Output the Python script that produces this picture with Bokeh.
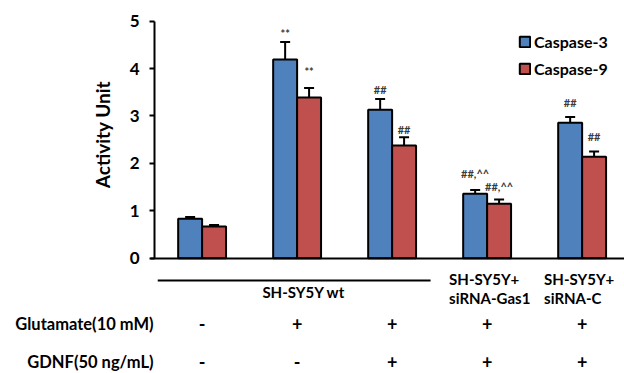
import math
from bokeh.plotting import figure
from bokeh.models import (Range1d, FixedTicker, Whisker, TeeHead, ColumnDataSource,
                          Legend, LegendItem, LabelSet, Label)
from bokeh.core.properties import value
from bokeh.embed import file_html
from bokeh.resources import INLINE

# ---------------- data ----------------
groups = [0, 1, 2, 3, 4]
caspase3 = [0.83, 4.19, 3.13, 1.36, 2.86]
caspase3_err = [0.04, 0.37, 0.23, 0.08, 0.12]
caspase9 = [0.67, 3.39, 2.38, 1.15, 2.14]
caspase9_err = [0.03, 0.20, 0.17, 0.09, 0.11]
sig3_text = ["", "**", "##", "##,^^", "##"]
sig3_y = [0, 4.74, 3.56, 1.79, 3.28]
sig9_text = ["", "**", "##", "##,^^", "##"]
sig9_y = [0, 3.94, 2.71, 1.51, 2.57]
glutamate = ["-", "+", "+", "+", "+"]
gdnf = ["-", "-", "+", "+", "+"]
cell_wt = "SH-SY5Y wt"
cell_line1 = ["SH-SY5Y+", "SH-SY5Y+"]
cell_line2 = ["siRNA-Gas1", "siRNA-C"]
cell_groups = [3, 4]
row_labels = ["Glutamate(10 mM)", "GDNF(50 ng/mL)"]
y_ticks = [0, 1, 2, 3, 4, 5]
y_title = "Activity Unit"

BLUE = "#4F81BD"
RED = "#C0504D"
FONT = "Lato"
bw = 0.252
off = bw / 2
X_AXIS_POS = -0.501   # where the value axis stands, left of the first group

p = figure(width=624, height=373, output_backend="svg", toolbar_location=None,
           x_range=Range1d(-2.122, 4.446), y_range=Range1d(-2.4325, 5.4367),
           min_border_left=0, min_border_right=0, min_border_top=0, min_border_bottom=0)
p.outline_line_color = None
p.xgrid.visible = False
p.ygrid.visible = False

x3 = [g - off for g in groups]
x9 = [g + off for g in groups]
src = ColumnDataSource(dict(
    x3=x3, x9=x9, c3=caspase3, c9=caspase9,
    lo3=[v - e for v, e in zip(caspase3, caspase3_err)],
    hi3=[v + e for v, e in zip(caspase3, caspase3_err)],
    lo9=[v - e for v, e in zip(caspase9, caspase9_err)],
    hi9=[v + e for v, e in zip(caspase9, caspase9_err)],
    s3=sig3_text, s3y=sig3_y, s9=sig9_text, s9y=sig9_y,
))

r3 = p.vbar(x="x3", top="c3", width=bw, source=src, fill_color=BLUE,
            line_color="black", line_width=2)
r9 = p.vbar(x="x9", top="c9", width=bw, source=src, fill_color=RED,
            line_color="black", line_width=2)

for lo, hi, xx in (("lo3", "hi3", "x3"), ("lo9", "hi9", "x9")):
    w = Whisker(source=src, base=xx, lower=lo, upper=hi, line_width=2,
                line_color="black",
                upper_head=TeeHead(size=10, line_width=2, line_color="black"),
                lower_head=TeeHead(size=10, line_width=2, line_color="black"))
    p.add_layout(w)

for xs, ys, ts in (("x3", "s3y", "s3"), ("x9", "s9y", "s9")):
    p.text(x=xs, y=ys, text=ts, source=src, text_align="center",
           text_baseline="middle", text_font=value(FONT), text_font_size="11px",
           text_font_style="bold", text_color="#3a3a3a")

# x axis: just a line at 0
xa = p.xaxis[0]
xa.fixed_location = 0
xa.bounds = (X_AXIS_POS - 0.04, 4.446)
xa.ticker = FixedTicker(ticks=[])
xa.minor_tick_line_color = None
xa.major_tick_line_color = None
xa.axis_line_width = 2
xa.axis_line_color = "black"

# y axis
ax = p.yaxis[0]
ax.fixed_location = X_AXIS_POS
ax.bounds = (0, 5)
ax.ticker = FixedTicker(ticks=y_ticks)
ax.minor_tick_line_color = None
ax.major_tick_in = 0
ax.major_tick_out = 5
ax.major_tick_line_width = 2
ax.axis_line_width = 2
ax.major_label_text_font = FONT
ax.major_label_text_font_size = "17px"
ax.major_label_text_font_style = "bold"
ax.major_label_text_color = "black"
ax.major_label_standoff = 10

p.add_layout(Label(x=X_AXIS_POS - 0.547, y=2.61, text=y_title, angle=math.pi / 2,
                   text_align="center", text_baseline="middle", text_font=FONT,
                   text_font_size="19px", text_font_style="bold", text_color="black"))

# legend
legend = Legend(items=[LegendItem(label="Caspase-3", renderers=[r3]),
                       LegendItem(label="Caspase-9", renderers=[r9])],
                location=(518, 295), orientation="vertical",
                glyph_width=13, glyph_height=13, label_standoff=3,
                label_height=13, spacing=8, padding=0, margin=0,
                border_line_color=None, background_fill_alpha=0,
                label_text_font=FONT, label_text_font_size="16px",
                label_text_font_style="bold", label_text_color="black")
p.add_layout(legend)

# lower annotation area
wt_line_y = -0.47
p.segment(x0=[groups[0] - 0.467], x1=[groups[2] + 0.405], y0=[wt_line_y], y1=[wt_line_y],
          line_color="black", line_width=2)

TXT = dict(text_font_size="15px", text_font_style="bold", text_color="black")
ROW = dict(text_font_size="16.5px", text_font_style="bold", text_color="black")
SIGN = dict(text_font_size="18px", text_font_style="bold", text_color="black")

p.add_layout(Label(x=(groups[0] + groups[2]) / 2 + 0.07, y=-0.72, text=cell_wt,
                   text_align="center", text_baseline="middle", text_font=FONT, **TXT))

csrc = ColumnDataSource(dict(x=[g - 0.40 for g in cell_groups], l1=cell_line1, l2=cell_line2,
                             y1=[-0.43] * 2, y2=[-0.85] * 2))
p.add_layout(LabelSet(x="x", y="y1", text="l1", source=csrc, text_align="left",
                      text_baseline="middle", text_font=value(FONT), **TXT))
p.add_layout(LabelSet(x="x", y="y2", text="l2", source=csrc, text_align="left",
                      text_baseline="middle", text_font=value(FONT), **TXT))

rows_y = [-1.378, -2.2]
tsrc = ColumnDataSource(dict(x=groups, g=glutamate, d=gdnf,
                             yg=[rows_y[0]] * 5, yd=[rows_y[1]] * 5))
p.add_layout(LabelSet(x="x", y="yg", text="g", source=tsrc, text_align="center",
                      text_baseline="middle", text_font=value(FONT), **SIGN))
p.add_layout(LabelSet(x="x", y="yd", text="d", source=tsrc, text_align="center",
                      text_baseline="middle", text_font=value(FONT), **SIGN))
for lab, yy in zip(row_labels, rows_y):
    p.add_layout(Label(x=X_AXIS_POS - 0.01, y=yy, text=lab, text_align="right",
                       text_baseline="middle", text_font=FONT, **ROW))

open("out.html", "w").write(file_html(p, INLINE))
